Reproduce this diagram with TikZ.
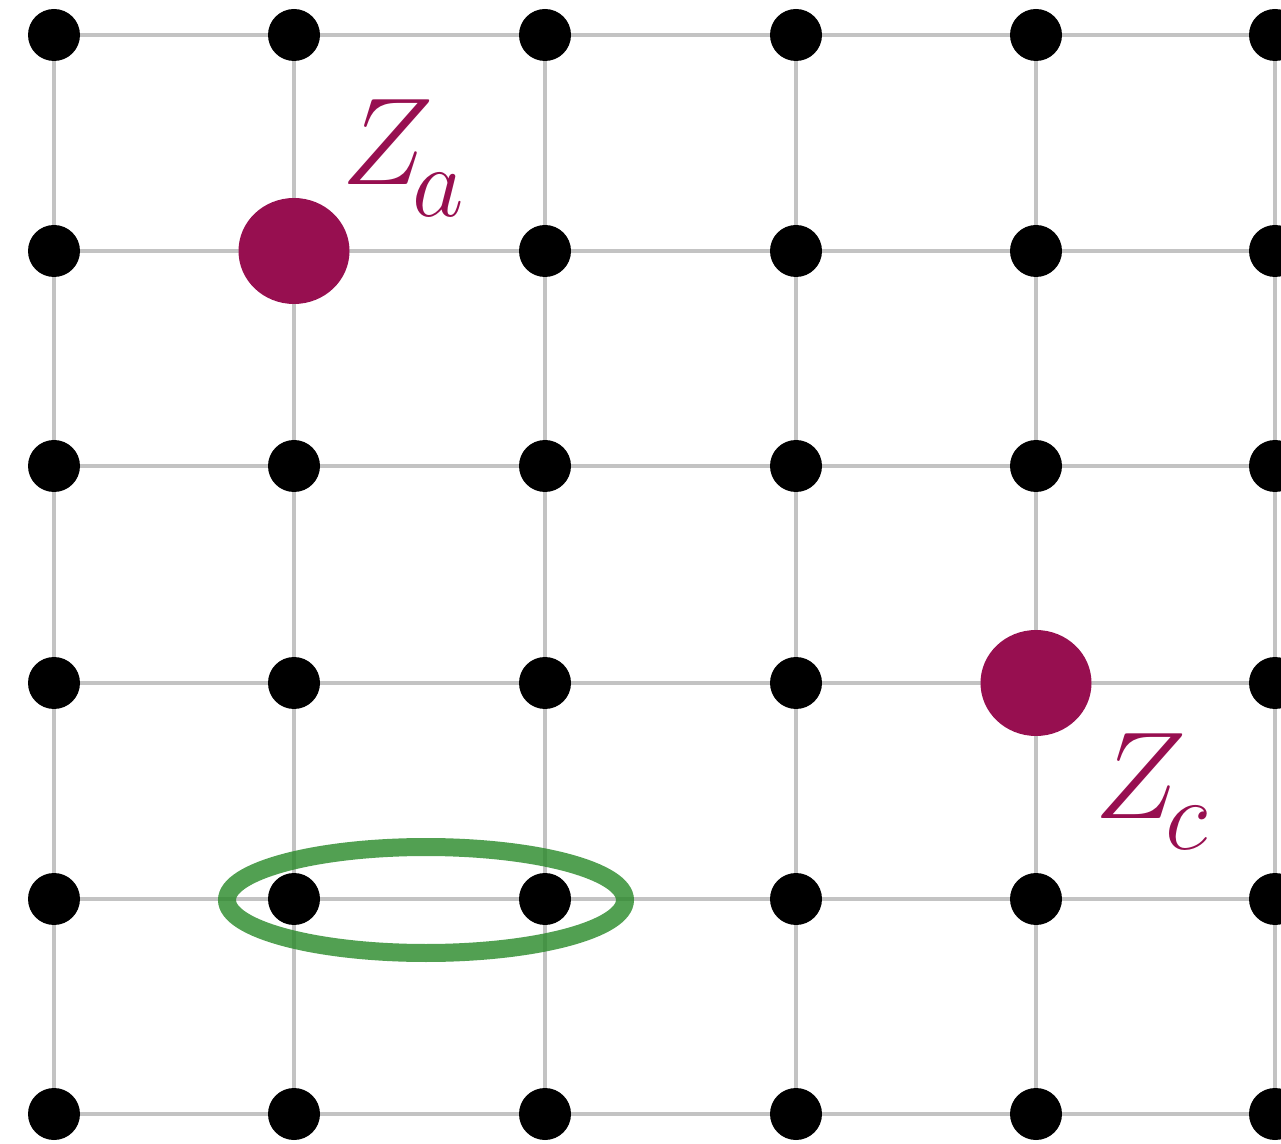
\RequirePackage{fix-cm}
\documentclass[tikz,border=0pt]{standalone}
\usetikzlibrary{shapes.geometric}
\DeclareMathSizes{62}{62}{50}{40}
\definecolor{zmag}{RGB}{151,15,80}
\definecolor{ringgreen}{RGB}{39,136,39}
\definecolor{gridgrey}{RGB}{195,195,195}
\newcommand{\zsub}[1]{_{\kern-6pt\raisebox{-6.5pt}{$\scriptstyle #1$}}}
\begin{document}
\begin{tikzpicture}[x=0.5pt,y=-0.5pt,
    gridline/.style={draw=gridgrey,line width=2.4pt},
    qubit/.style={circle,fill=black,minimum size=26pt,inner sep=0pt},
    zdot/.style={ellipse,fill=zmag,minimum width=55.5pt,minimum height=53pt,inner sep=0pt},
    zlabel/.style={text=zmag,inner sep=0pt,anchor=base west,font=\fontsize{62}{70}\selectfont}]
  \useasboundingbox (0,0) rectangle (1281,1144);
  % lattice points
  \foreach \r/\y in {1/35,2/251,3/466,4/683,5/899,6/1114}{
    \foreach \c/\x in {1/54,2/294,3/545,4/796,5/1036,6/1275}
      \coordinate (p-\r-\c) at (\x,\y);
  }
  % grid lines
  \foreach \r in {1,...,6}
    \draw[gridline] (p-\r-1) -- (p-\r-6);
  \foreach \c in {1,...,6}
    \draw[gridline] (p-1-\c) -- (p-6-\c);
  % qubits
  \foreach \r in {1,...,6}
    \foreach \c in {1,...,6}{
      \ifnum\r\c=22\relax\else\ifnum\r\c=45\relax\else
        \node[qubit] (d-\r-\c) at (p-\r-\c) {};
      \fi\fi
    }
  % Z errors
  \node[zdot] (za) at (p-2-2) {};
  \node[zdot] (zc) at (p-4-5) {};
  \node[zlabel] (la) at (341,185) {$Z\zsub{a}$};
  \node[zlabel] (lc) at (1094,818) {$Z\zsub{c}$};
  % pair
  \coordinate (ring) at (426,900);
  \draw[ringgreen,opacity=0.8,line width=9pt] (ring) ellipse [x radius=99.5pt,y radius=26.5pt];
\end{tikzpicture}
\end{document}
